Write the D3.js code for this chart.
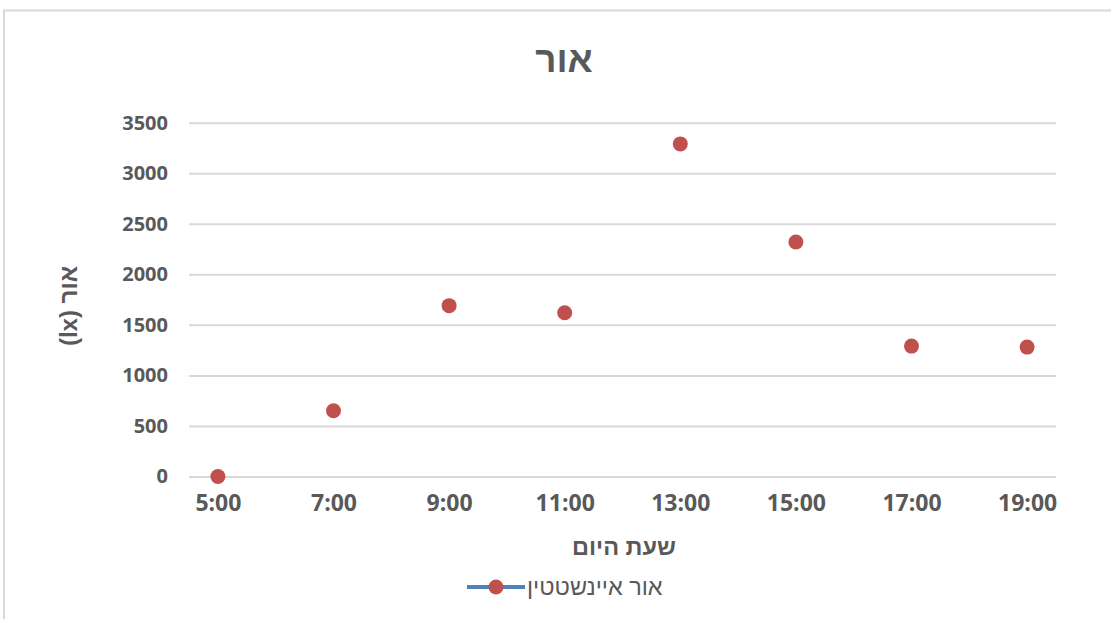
<!DOCTYPE html>
<html>
<head>
<meta charset="utf-8">
<script src="https://cdn.jsdelivr.net/npm/d3@7"></script>
<style>
  html, body { margin: 0; padding: 0; background: #ffffff; }
  svg { display: block; font-family: "Liberation Sans", Arial, sans-serif; }
  .num { font-family: "Open Sans", "Liberation Sans", sans-serif; }
</style>
</head>
<body>
<svg id="chart" width="1111" height="619"></svg>
<script>
// Hours of measurement and light intensity (lux)
const hours = [5, 7, 9, 11, 13, 15, 17, 19];
const luxValues = [0, 650, 1690, 1620, 3290, 2320, 1290, 1280];
const yTicks = [0, 500, 1000, 1500, 2000, 2500, 3000, 3500];
const xTickLabels = ["5:00", "7:00", "9:00", "11:00", "13:00", "15:00", "17:00", "19:00"];

const chartTitle = "אור";
const xTitle = "שעת היום";
const yTitle = "אור (lx)";
const seriesName = "אור איינשטטין";

const textColor = "#595959";
const gridColor = "#d9d9d9";
const markerColor = "#c0504d";
const lineColor = "#4f81bd";

const svg = d3.select("#chart");

// chart frame
svg.append("path")
  .attr("d", "M4,619 V10.5 H1111")
  .attr("fill", "none")
  .attr("stroke", "#d9d9d9")
  .attr("stroke-width", 2);

const plot = { left: 189, right: 1056, top: 122.7, bottom: 476.5 };

const x = d3.scaleLinear().domain([4.5, 19.5]).range([plot.left, plot.right]);
const y = d3.scaleLinear().domain([0, 3500]).range([plot.bottom, plot.top]);

// horizontal gridlines + y labels via axis
const yAxis = d3.axisLeft(y)
  .tickValues(yTicks)
  .tickSize(-(plot.right - plot.left))
  .tickPadding(21)
  .tickFormat(d3.format("d"));

const gy = svg.append("g")
  .attr("transform", `translate(${plot.left},0)`)
  .call(yAxis);
gy.select(".domain").remove();
gy.selectAll(".tick line").attr("stroke", gridColor).attr("stroke-width", 2);
gy.selectAll(".tick text")
  .attr("class", "num")
  .attr("fill", textColor)
  .attr("font-size", 20)
  .attr("font-weight", "bold");

// x labels via axis
const xAxis = d3.axisBottom(x)
  .tickValues(hours)
  .tickSize(0)
  .tickPadding(18)
  .tickFormat((d, i) => xTickLabels[i]);

const gx = svg.append("g")
  .attr("transform", `translate(0,${plot.bottom})`)
  .call(xAxis);
gx.select(".domain").remove();
gx.selectAll(".tick text")
  .attr("class", "num")
  .attr("fill", textColor)
  .attr("font-size", 23)
  .attr("font-weight", "bold");

// data points
svg.append("g")
  .selectAll("circle")
  .data(hours.map((h, i) => ({ h, v: luxValues[i] })))
  .join("circle")
  .attr("cx", d => x(d.h))
  .attr("cy", d => y(d.v))
  .attr("r", 7.5)
  .attr("fill", markerColor);

// title
svg.append("text")
  .attr("x", 564)
  .attr("y", 72)
  .attr("text-anchor", "middle")
  .attr("fill", textColor)
  .attr("font-size", 37)
  .attr("font-weight", "bold")
  .text(chartTitle);

// x axis title
svg.append("text")
  .attr("x", 624)
  .attr("y", 555)
  .attr("text-anchor", "middle")
  .attr("fill", textColor)
  .attr("font-size", 23.5)
  .attr("font-weight", "bold")
  .text(xTitle);

// y axis title
svg.append("text")
  .attr("transform", "translate(77,306) rotate(-90)")
  .attr("text-anchor", "middle")
  .attr("direction", "rtl")
  .attr("fill", textColor)
  .attr("font-size", 24)
  .attr("font-weight", "bold")
  .text(yTitle);

// legend
const legend = svg.append("g");
legend.append("line")
  .attr("x1", 467).attr("x2", 525)
  .attr("y1", 587).attr("y2", 587)
  .attr("stroke", lineColor)
  .attr("stroke-width", 4);
legend.append("circle")
  .attr("cx", 496).attr("cy", 587)
  .attr("r", 7.5)
  .attr("fill", markerColor);
legend.append("text")
  .attr("x", 527)
  .attr("y", 595)
  .attr("text-anchor", "start")
  .attr("fill", textColor)
  .attr("font-size", 23.5)
  .text(seriesName);
</script>
</body>
</html>
